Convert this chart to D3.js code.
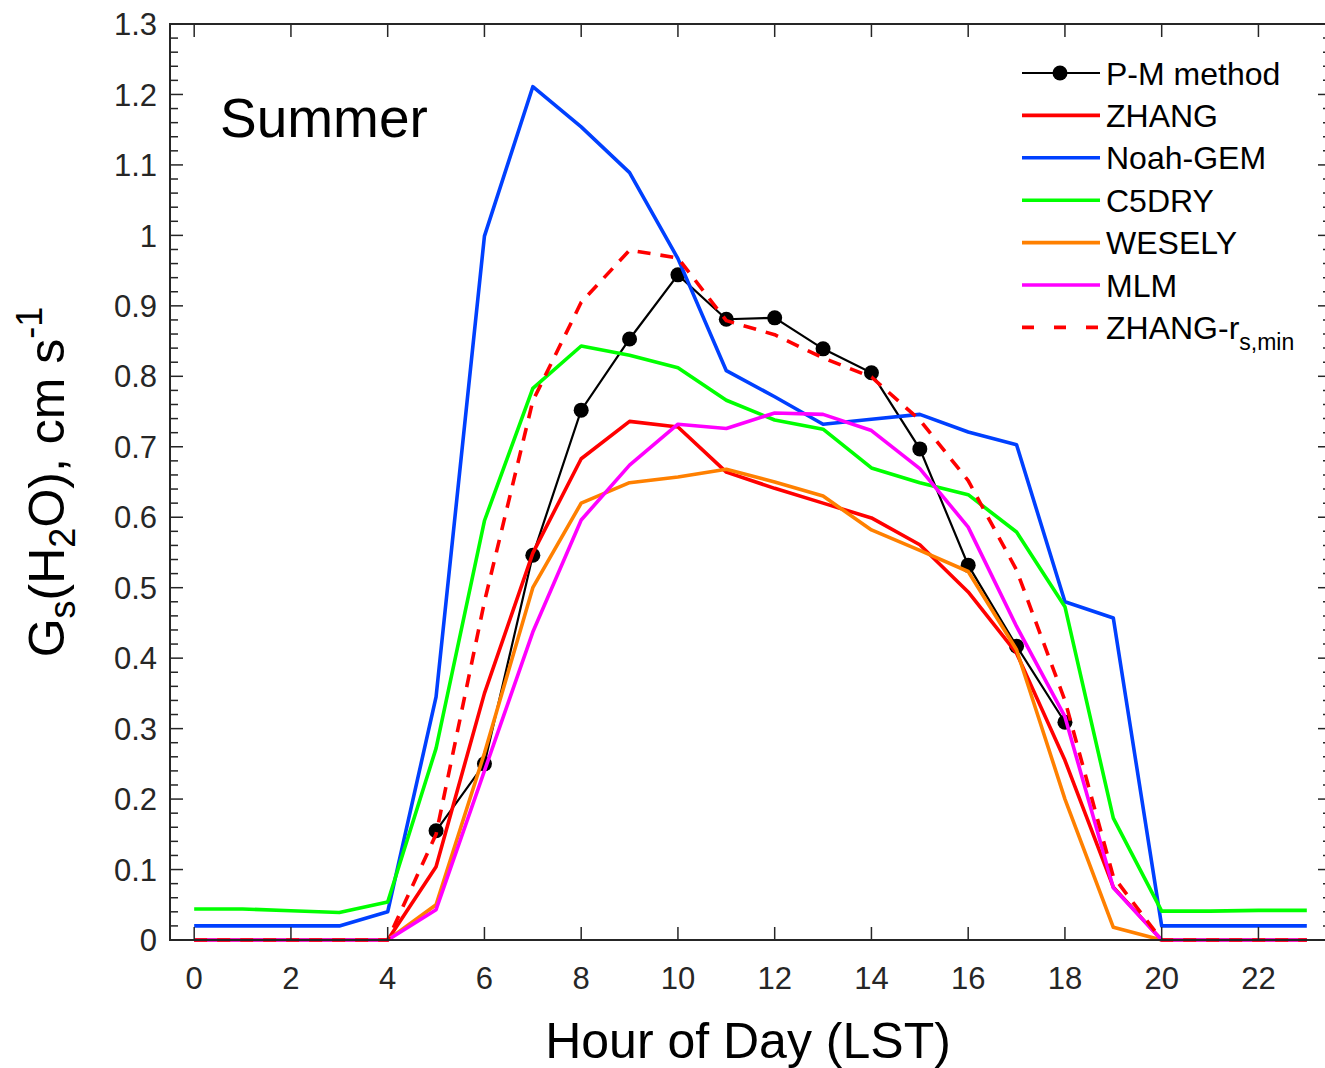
<!DOCTYPE html>
<html>
<head>
<meta charset="utf-8">
<script src="https://cdn.jsdelivr.net/npm/d3@7"></script>
<style>
html,body{margin:0;padding:0;background:#fff;}
svg{display:block;font-family:"Liberation Sans",Arial,Helvetica,sans-serif;}
</style>
</head>
<body>
<svg id="chart" width="1325" height="1068"></svg>
<script>
const hours = d3.range(0, 24);
const pmHours = d3.range(5, 19);
const pmValues = [0.155,0.25,0.546,0.752,0.853,0.944,0.881,0.883,0.839,0.805,0.697,0.532,0.417,0.309];
const zhang   = [0,0,0,0,0,0.104,0.35,0.549,0.683,0.736,0.728,0.664,0.641,0.62,0.599,0.561,0.494,0.407,0.255,0.075,0,0,0,0];
const noahGem = [0.02,0.02,0.02,0.02,0.04,0.345,0.999,1.211,1.154,1.089,0.967,0.808,0.771,0.732,0.739,0.746,0.721,0.703,0.48,0.457,0.02,0.02,0.02,0.02];
const c5dry   = [0.044,0.044,0.0415,0.039,0.054,0.272,0.595,0.783,0.843,0.83,0.812,0.766,0.738,0.725,0.67,0.649,0.632,0.579,0.473,0.173,0.041,0.041,0.042,0.042];
const wesely  = [0,0,0,0,0,0.05,0.265,0.5,0.62,0.649,0.657,0.668,0.65,0.63,0.582,0.553,0.523,0.412,0.2,0.018,0,0,0,0];
const mlm     = [0,0,0,0,0,0.043,0.24,0.437,0.596,0.674,0.732,0.726,0.748,0.746,0.723,0.669,0.586,0.445,0.317,0.074,0,0,0,0];
const zhangRs = [0,0,0,0,0,0.15,0.48,0.765,0.905,0.979,0.968,0.879,0.859,0.826,0.799,0.738,0.652,0.525,0.34,0.09,0,0,0,0];
const xTicks = d3.range(0, 23, 2);
const yTicks = [0,0.1,0.2,0.3,0.4,0.5,0.6,0.7,0.8,0.9,1,1.1,1.2,1.3];
const yMinor = d3.range(0, 131, 2).map(v => v / 100);

const series = [
  {name:"ZHANG", values:zhang, color:"#ff0000", dash:null},
  {name:"Noah-GEM", values:noahGem, color:"#0040ff", dash:null},
  {name:"C5DRY", values:c5dry, color:"#00ff00", dash:null},
  {name:"WESELY", values:wesely, color:"#ff8000", dash:null},
  {name:"MLM", values:mlm, color:"#ff00ff", dash:null},
  {name:"ZHANG-r", values:zhangRs, color:"#ff0000", dash:"13,10"}
];

const L = 170, R = 1331, T = 24, B = 940;
const svg = d3.select("#chart");
const x = d3.scaleLinear().domain([-0.5, 23.5]).range([L, R]);
const y = d3.scaleLinear().domain([0, 1.3]).range([B, T]);
const axisColor = "#262626";

const line = d3.line().x((d,i) => x(hours[i])).y(d => y(d));
const pmLine = d3.line().x((d,i) => x(pmHours[i])).y(d => y(d));
const plot = svg.append("g");
plot.append("path").attr("d", pmLine(pmValues)).attr("fill","none").attr("stroke","#000").attr("stroke-width",2.2);
plot.selectAll("circle.pm").data(pmValues).enter().append("circle")
  .attr("cx",(d,i)=>x(pmHours[i])).attr("cy",d=>y(d)).attr("r",7.5).attr("fill","#000");
series.forEach(s => {
  plot.append("path").attr("d", line(s.values)).attr("fill","none")
    .attr("stroke", s.color).attr("stroke-width", 3.6)
    .attr("stroke-linejoin","round")
    .attr("stroke-dasharray", s.dash);
});

const g = svg.append("g").attr("stroke", axisColor).attr("fill","none");
g.append("rect").attr("x",L).attr("y",T).attr("width",R-L).attr("height",B-T).attr("stroke-width",2);
yMinor.forEach(v => {
  const major = Math.abs(Math.round(v*10) - v*10) < 1e-6;
  const len = major ? 13 : 8;
  g.append("line").attr("x1",L).attr("x2",L+len).attr("y1",y(v)).attr("y2",y(v)).attr("stroke-width",1.5);
  g.append("line").attr("x1",R).attr("x2",R-len).attr("y1",y(v)).attr("y2",y(v)).attr("stroke-width",1.5);
});
xTicks.forEach(v => {
  g.append("line").attr("x1",x(v)).attr("x2",x(v)).attr("y1",B).attr("y2",B-13).attr("stroke-width",1.5);
  g.append("line").attr("x1",x(v)).attr("x2",x(v)).attr("y1",T).attr("y2",T+13).attr("stroke-width",1.5);
});
svg.append("g").selectAll("text").data(yTicks).enter().append("text")
  .attr("x", 157).attr("y", d => y(d)).attr("dy","0.36em")
  .attr("text-anchor","end").attr("font-size",31).attr("fill",axisColor)
  .text(d => d);
svg.append("g").selectAll("text").data(xTicks).enter().append("text")
  .attr("x", d => x(d)).attr("y", 989)
  .attr("text-anchor","middle").attr("font-size",31).attr("fill",axisColor)
  .text(d => d);

svg.append("text").attr("x", 748).attr("y", 1058).attr("text-anchor","middle")
  .attr("font-size",50).attr("fill","#000").text("Hour of Day (LST)");
const yl = svg.append("text").attr("transform","translate(64,482) rotate(-90)")
  .attr("text-anchor","middle").attr("font-size",50).attr("fill","#000");
yl.append("tspan").text("G");
yl.append("tspan").attr("font-size",36).attr("dy",11).text("s");
yl.append("tspan").attr("dy",-11).text("(H");
yl.append("tspan").attr("font-size",36).attr("dy",11).text("2");
yl.append("tspan").attr("dy",-11).text("O), cm s");
yl.append("tspan").attr("font-size",36).attr("dy",-22).text("-1");

svg.append("text").attr("x",220).attr("y",137).attr("font-size",55).attr("fill","#000").text("Summer");

const legendItems = [{name:"P-M method", color:"#000", dash:null, marker:true}].concat(
  series.map(s => ({name:s.name, color:s.color, dash:s.dash, marker:false})));
const lg = svg.append("g");
legendItems.forEach((it, i) => {
  const yy = 73 + i*42.4;
  lg.append("line").attr("x1",1022).attr("x2",1100).attr("y1",yy).attr("y2",yy)
    .attr("stroke",it.color).attr("stroke-width", it.marker ? 2.2 : 3.6)
    .attr("stroke-dasharray", it.dash ? "12,20" : null);
  if (it.marker) lg.append("circle").attr("cx",1060).attr("cy",yy).attr("r",7.5).attr("fill","#000");
  const t = lg.append("text").attr("x",1106).attr("y",yy).attr("dy","0.36em")
    .attr("font-size",32).attr("fill","#000");
  if (it.name === "ZHANG-r") {
    t.append("tspan").text("ZHANG-r");
    t.append("tspan").attr("font-size",23).attr("dy",11).text("s,min");
  } else t.text(it.name);
});
</script>
</body>
</html>
